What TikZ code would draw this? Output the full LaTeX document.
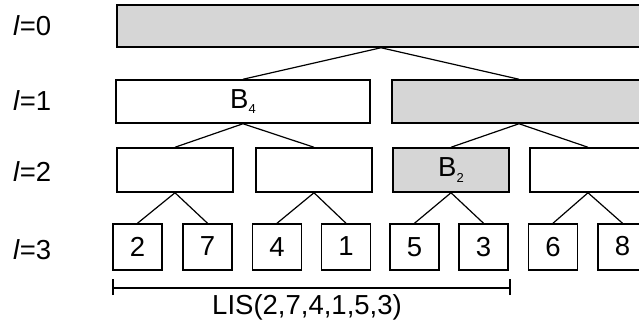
\documentclass[tikz,border=0pt]{standalone}
\usepackage{fontspec}
\setmainfont{Liberation Sans}
\begin{document}
\begin{tikzpicture}[x=1pt,y=-1pt,
  every node/.style={font=\fontsize{27.5}{30}\selectfont},
  blk/.style={draw=black,line width=1.5pt,rectangle,inner sep=0pt,fill=white},
  shaded/.style={fill=gray!32},
  leaf/.style={blk,minimum width=49pt,minimum height=46pt},
  mid/.style={blk,minimum width=116pt,minimum height=44pt},
  wide/.style={blk,minimum width=254pt,minimum height=43pt},
  link/.style={line width=1.2pt},
  lvl/.style={anchor=west,inner sep=0pt}]
\useasboundingbox (0,0) rectangle (639,329);
\clip (0,0) rectangle (639,329);

% level labels
\node[lvl] (t0) at (13,26) {\textit{l}=0};
\node[lvl] (t1) at (13,101) {\textit{l}=1};
\node[lvl] (t2) at (13,172) {\textit{l}=2};
\node[lvl] (t3) at (13,250) {\textit{l}=3};

% level 0
\node[blk,shaded,minimum width=528pt,minimum height=42pt] (r) at (381,26) {};

% level 1
\node[wide] (a) at (243,101.5) {B\raisebox{-0.4ex}{\fontsize{13}{13}\selectfont 4}};
\node[wide,shaded] (b) at (519,101.5) {};

% level 2
\node[mid] (a1) at (175,170) {};
\node[mid] (a2) at (314,170) {};
\node[mid,shaded] (b1) at (451,170) {B\raisebox{-0.4ex}{\fontsize{13}{13}\selectfont 2}};
\node[mid] (b2) at (588,170) {};

% level 3
\node[leaf] (c1) at (137.5,247) {\raisebox{-2pt}{2}};
\node[leaf] (c2) at (207.5,247) {\raisebox{1pt}{7}};
\node[leaf] (c3) at (277,247) {4};
\node[leaf] (c4) at (346,247) {\raisebox{1pt}{1}};
\node[leaf] (c5) at (414.5,247) {5};
\node[leaf] (c6) at (483.5,247) {3};
\node[leaf] (c7) at (553,247) {\raisebox{-3pt}{6}};
\node[leaf] (c8) at (622.5,247) {\raisebox{1.5pt}{8}};

% tree edges
\draw[link] (r.south) -- (a.north);
\draw[link] (r.south) -- (b.north);
\draw[link] (a.south) -- (a1.north);
\draw[link] (a.south) -- (a2.north);
\draw[link] (b.south) -- (b1.north);
\draw[link] (b.south) -- (b2.north);
\draw[link] (a1.south) -- (c1.north);
\draw[link] (a1.south) -- (c2.north);
\draw[link] (a2.south) -- (c3.north);
\draw[link] (a2.south) -- (c4.north);
\draw[link] (b1.south) -- (c5.north);
\draw[link] (b1.south) -- (c6.north);
\draw[link] (b2.south) -- (c7.north);
\draw[link] (b2.south) -- (c8.north);

% span bracket
\coordinate (s0) at (113,288);
\coordinate (s1) at (510,288);
\draw[link] (s0) -- (s1);
\draw[link] ([yshift=-7pt]s0) -- ([yshift=9pt]s0);
\draw[link] ([yshift=-7pt]s1) -- ([yshift=9pt]s1);
\node[inner sep=0pt] (lis) at (307,307) {LIS(2,7,4,1,5,3)};
\end{tikzpicture}
\end{document}
